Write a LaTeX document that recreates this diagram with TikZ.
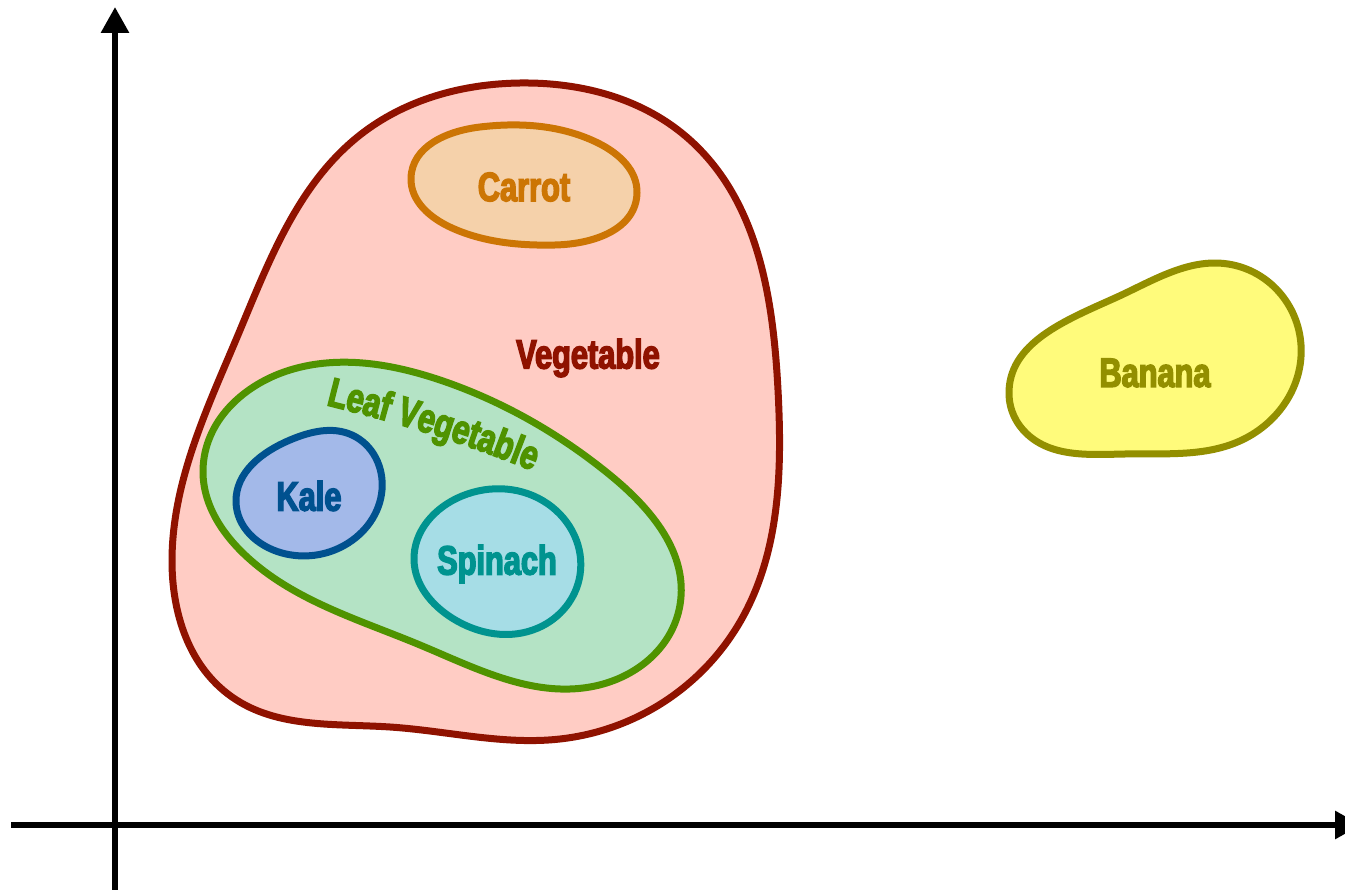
\documentclass[tikz,border=0pt]{standalone}
\usepackage{fontspec}
\newfontface\lab{Liberation Sans Bold}[FakeStretch=0.75,FakeBold=3.5]
\usetikzlibrary{arrows.meta,decorations.text,hobby}
\definecolor{vegline}{HTML}{8F1200}
\definecolor{vegfill}{HTML}{FFCCC4}
\definecolor{carline}{HTML}{CC7504}
\definecolor{carfill}{HTML}{F5D1AA}
\definecolor{leafline}{HTML}{4F9300}
\definecolor{leaffill}{HTML}{B4E3C5}
\definecolor{kaleline}{HTML}{00518F}
\definecolor{kalefill}{HTML}{A3B9E9}
\definecolor{spinline}{HTML}{00938F}
\definecolor{spinfill}{HTML}{A6DDE6}
\definecolor{banline}{HTML}{938F00}
\definecolor{banfill}{HTML}{FFFB7B}
\newcommand{\labfont}{\lab\fontsize{41}{42}\selectfont}
\begin{document}
\begin{tikzpicture}[x=1pt,y=-1pt,
  setline/.style={line width=7pt, line join=round, use Hobby shortcut, closed=true},
  axis/.style={line width=6pt, -{Triangle[length=26pt,width=27pt]}},
  lbl/.style={font=\labfont, inner sep=0pt}]
\useasboundingbox (0,0) rectangle (1345,890);

% axes
\coordinate (ybot) at (115,890);
\coordinate (ytop) at (115,7);
\coordinate (xleft) at (11,825);
\coordinate (xright) at (1361,825);
\draw[axis] (ybot) -- (ytop);
\draw[axis] (xleft) -- (xright);

% Vegetable set
\draw[setline, draw=vegline, fill=vegfill]
  (520,83) .. (690,140) .. (778,390) .. (740,622) .. (560,739) .. (390,727)
  .. (232,697) .. (172,560) .. (238,335) .. (360,135);

% Carrot
\draw[setline, draw=carline, fill=carfill]
  (411,178) .. (480,127) .. (598,143) .. (637,193) .. (555,245) .. (452,228);

% Leaf Vegetable
\draw[setline, draw=leafline, fill=leaffill]
  (203,470) .. (290,370) .. (440,380) .. (610,475) .. (680,605) .. (590,687)
  .. (420,645) .. (245,555);

% Kale
\draw[setline, draw=kaleline, fill=kalefill]
  (236,502) .. (290,440) .. (352,435) .. (382,490) .. (345,545) .. (282,553);

% Spinach
\draw[setline, draw=spinline, fill=spinfill]
  (414,560) .. (462,496) .. (548,504) .. (580,575) .. (538,628) .. (452,618);

% Banana
\draw[setline, draw=banline, fill=banfill]
  (1009,395) .. (1115,298) .. (1228,264) .. (1301,345) .. (1242,440) .. (1125,454)
  .. (1027,434);

% labels
\node[lbl, text=vegline] (veg) at (588,358) {Vegetable};
\node[lbl, text=carline] (car) at (524,187) {Carrot};
\coordinate (leafa) at (326,405);
\coordinate (leafb) at (560,482);
\path[decorate, decoration={text along path,
    text={|\labfont\color{leafline}|Leaf Vegetable}}]
  (leafa) .. controls (390,421) and (460,440) .. (leafb);
\node[lbl, text=kaleline] (kale) at (309,496) {Kale};
\node[lbl, text=spinline] (spin) at (497,564) {Spinach};
\node[lbl, text=banline] (ban) at (1155,373) {Banana};
\end{tikzpicture}
\end{document}
